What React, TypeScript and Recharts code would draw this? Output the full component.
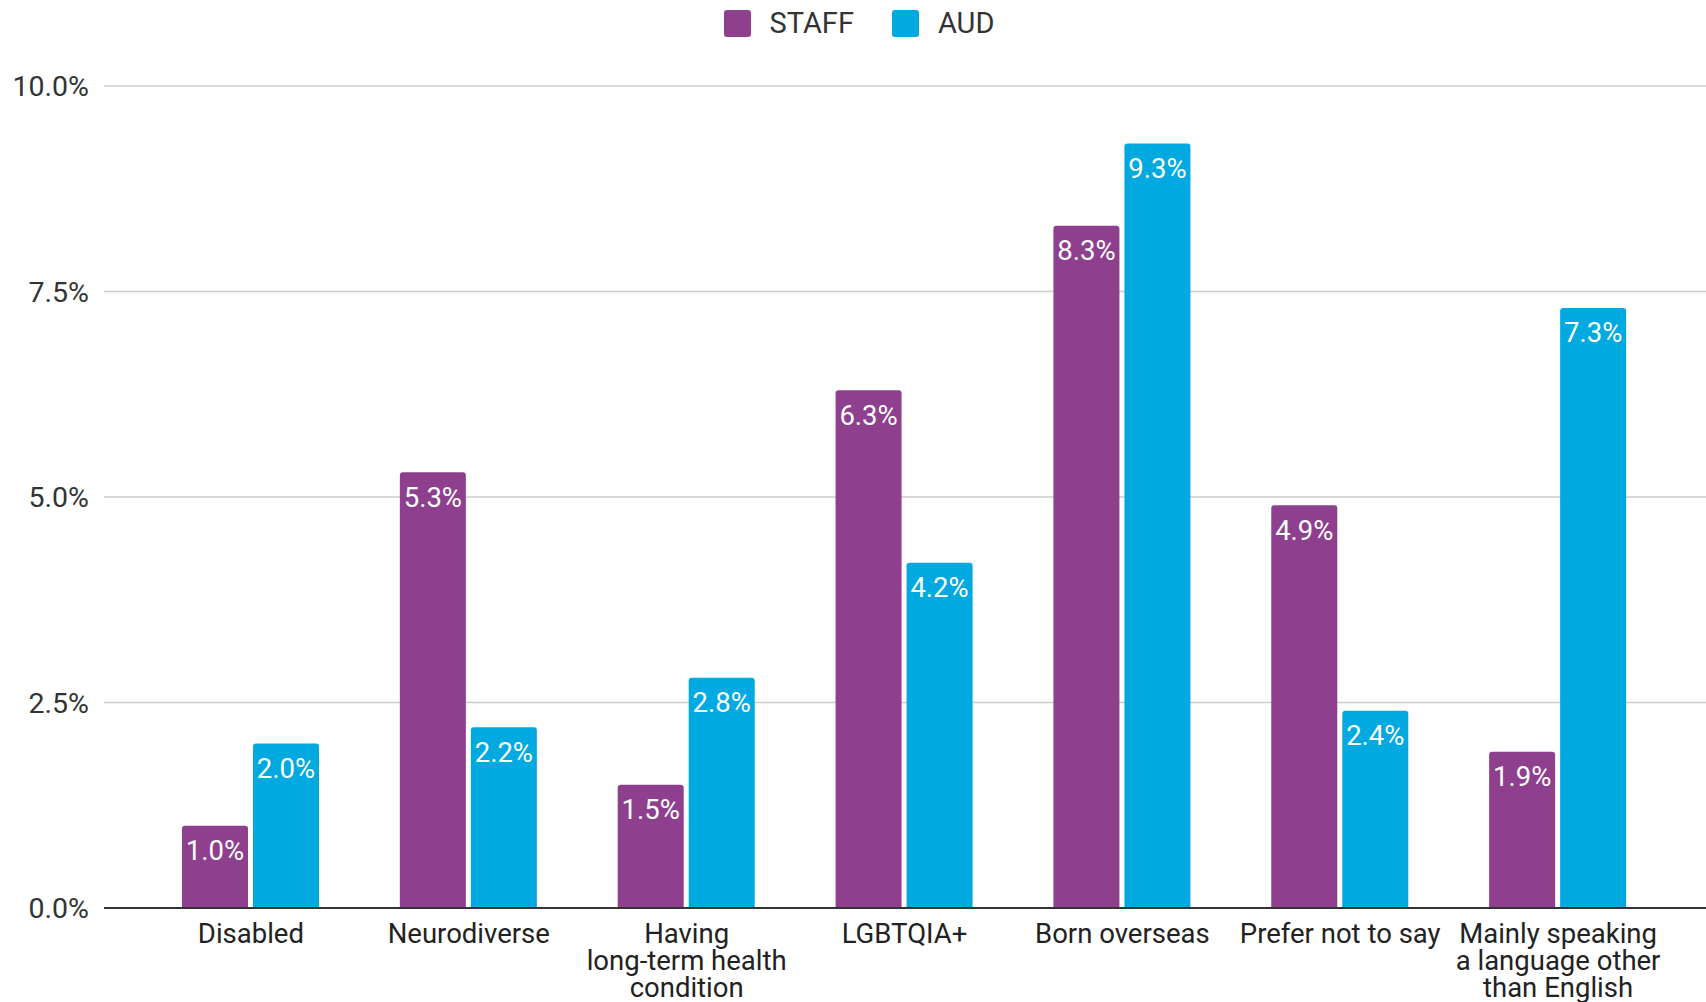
import React from "react";
import { BarChart, Bar, XAxis, YAxis, CartesianGrid, Legend, LabelList } from "recharts";

const categories: string[][] = [
  ["Disabled"],
  ["Neurodiverse"],
  ["Having", "long-term health", "condition"],
  ["LGBTQIA+"],
  ["Born overseas"],
  ["Prefer not to say"],
  ["Mainly speaking", "a language other", "than English"],
];
const staffValues = [1.0, 5.3, 1.5, 6.3, 8.3, 4.9, 1.9];
const audValues = [2.0, 2.2, 2.8, 4.2, 9.3, 2.4, 7.3];
const yTicks = [0, 2.5, 5, 7.5, 10];

const STAFF_COLOR = "#8E3F8E";
const AUD_COLOR = "#00A9E0";
const FONT = "Roboto, 'Noto Sans', sans-serif";

const data = categories.map((lines, i) => ({
  name: lines.join("\n"),
  staff: staffValues[i],
  aud: audValues[i],
}));

const pct = (v: number) => `${Number(v).toFixed(1)}%`;

function CategoryTick(props: any) {
  const { x, y, payload } = props;
  const lines = String(payload.value).split("\n");
  return (
    <text x={x} y={y} textAnchor="middle" fill="#222" fontSize={27.5} fontFamily={FONT}>
      {lines.map((l, i) => (
        <tspan key={i} x={x} dy={i === 0 ? 27 : 27}>
          {l}
        </tspan>
      ))}
    </text>
  );
}

function LegendBox() {
  const items = [
    { label: "STAFF", color: STAFF_COLOR },
    { label: "AUD", color: AUD_COLOR },
  ];
  return (
    <div
      style={{
        height: 86,
        display: "flex",
        justifyContent: "center",
        alignItems: "flex-start",
        paddingTop: 9,
        boxSizing: "border-box",
        fontFamily: FONT,
        fontSize: 29,
        color: "#333",
        marginLeft: 12,
      }}
    >
      {items.map((it, i) => (
        <div
          key={it.label}
          style={{ display: "flex", alignItems: "center", marginLeft: i === 0 ? 0 : 38 }}
        >
          <div
            style={{ width: 27, height: 27, borderRadius: 3, background: it.color, marginRight: 19 }}
          />
          <span style={{ lineHeight: "29px" }}>{it.label}</span>
        </div>
      ))}
    </div>
  );
}

export default function App() {
  return (
    <div style={{ position: "absolute", left: 0, top: 0, background: "#fff" }}>
      <BarChart
        width={1706}
        height={1002}
        data={data}
        margin={{ top: 0, right: 0, bottom: 0, left: 0 }}
        barSize={66}
        barGap={5}
      >
        <Legend verticalAlign="top" align="center" content={() => <LegendBox />} />
        <CartesianGrid vertical={false} stroke="#cccccc" strokeWidth={1.5} />
        <XAxis
          dataKey="name"
          interval={0}
          padding={{ left: 38, right: 39 }}
          axisLine={{ stroke: "#333", strokeWidth: 2 }}
          tickLine={false}
          tick={<CategoryTick />}
          height={94}
        />
        <YAxis
          width={104}
          domain={[0, 10]}
          ticks={yTicks}
          tickFormatter={pct}
          axisLine={false}
          tickLine={false}
          tickMargin={9}
          tick={{ fontSize: 28.5, fill: "#333", fontFamily: FONT }}
        />
        <Bar dataKey="staff" name="STAFF" fill={STAFF_COLOR} radius={[3, 3, 0, 0]} isAnimationActive={false}>
          <LabelList
            dataKey="staff"
            position="insideTop"
            offset={15}
            formatter={(v: any) => pct(v)}
            fill="#fff"
            fontSize={27.5}
            fontWeight={400}
            fontFamily={FONT}
          />
        </Bar>
        <Bar dataKey="aud" name="AUD" fill={AUD_COLOR} radius={[3, 3, 0, 0]} isAnimationActive={false}>
          <LabelList
            dataKey="aud"
            position="insideTop"
            offset={15}
            formatter={(v: any) => pct(v)}
            fill="#fff"
            fontSize={27.5}
            fontWeight={400}
            fontFamily={FONT}
          />
        </Bar>
      </BarChart>
    </div>
  );
}
